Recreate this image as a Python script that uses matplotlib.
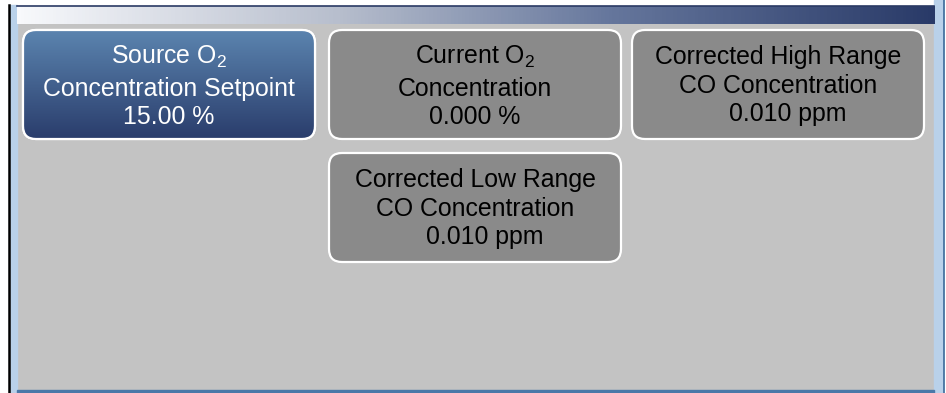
import matplotlib
matplotlib.use("Agg")
import matplotlib.pyplot as plt
import numpy as np
from matplotlib.patches import FancyBboxPatch, Rectangle
from matplotlib.colors import LinearSegmentedColormap

plt.rcParams['font.family'] = ['Liberation Sans', 'DejaVu Sans']

# Contenido de los botones
etiquetas = [
    ["Source O$_\\mathregular{2}$", "Concentration Setpoint", "15.00 %"],
    ["Current O$_\\mathregular{2}$", "Concentration", "0.000 %"],
    ["Corrected High Range", "CO Concentration", "0.010 ppm"],
    ["Corrected Low Range", "CO Concentration", "0.010 ppm"],
]
fila = [0, 0, 0, 1]
columna = [0, 1, 2, 1]
seleccionado = [True, False, False, False]

# Disposicion (pixeles)
col_x = [23, 329, 632]
fila_y = [30, 153]
ancho, alto = 292, 109
base_o2 = [34, 66, 94]
base_co = [34, 63, 91]

fig = plt.figure(figsize=(9.46, 3.93), dpi=100)
ax = fig.add_axes([0, 0, 1, 1])
ax.set_xlim(0, 946)
ax.set_ylim(393, 0)
ax.axis('off')

# Marco de la pantalla
ax.add_patch(Rectangle((17, 24), 917, 367, color='#c3c3c3', zorder=0))
ax.add_patch(Rectangle((9, 5), 8, 388, color='#b9d1ea', zorder=1))
ax.add_patch(Rectangle((934, 0), 9, 393, color='#b9d1ea', zorder=1))
ax.plot([8.5, 8.5], [5, 393], color='black', lw=1.8, zorder=3)
ax.plot([943.5, 943.5], [0, 393], color='#3a6a9a', lw=1.2, zorder=3)
ax.add_patch(Rectangle((17, 390), 917, 3, color='#4a78a8', zorder=2))
ax.plot([17, 934], [5.5, 5.5], color='#2a3a64', lw=1.2, zorder=3)

# Barra superior con degradado
cmap_barra = LinearSegmentedColormap.from_list(
    'barra', [(0, '#f8f9fc'), (0.35, '#b7becd'), (0.65, '#65769c'), (1, '#293a68')])
grad = np.linspace(0, 1, 256).reshape(1, -1)
ax.imshow(grad, extent=[17, 934, 24, 6], cmap=cmap_barra, aspect='auto', zorder=2)

cmap_azul = LinearSegmentedColormap.from_list('azul', ['#5b84af', '#2a3d6c'])
vert = np.linspace(0, 1, 128).reshape(-1, 1)

for i, lineas in enumerate(etiquetas):
    x = col_x[columna[i]]
    y = fila_y[fila[i]]
    caja = FancyBboxPatch((x, y), ancho, alto, boxstyle="round,pad=0,rounding_size=13",
                          facecolor='#8a8a8a', edgecolor='white', lw=1.6, zorder=4)
    ax.add_patch(caja)
    if seleccionado[i]:
        im = ax.imshow(vert, extent=[x, x + ancho, y + alto, y], cmap=cmap_azul,
                       aspect='auto', zorder=4.5)
        im.set_clip_path(caja)
        borde = FancyBboxPatch((x, y), ancho, alto, boxstyle="round,pad=0,rounding_size=13",
                               facecolor='none', edgecolor='white', lw=1.6, zorder=5)
        ax.add_patch(borde)
    color_txt = 'white' if seleccionado[i] else 'black'
    bases = base_o2 if 'O$' in lineas[0] else base_co
    cx = x + ancho / 2
    for j, txt in enumerate(lineas):
        dx = 10 if (j == 2 and 'ppm' in txt) else 0
        ax.text(cx + dx, y + bases[j], txt, ha='center', va='baseline',
                fontsize=17.9, color=color_txt, zorder=6)

ax.set_xlim(0, 946)
ax.set_ylim(393, 0)
fig.savefig('out.png', dpi=100, facecolor='white')
